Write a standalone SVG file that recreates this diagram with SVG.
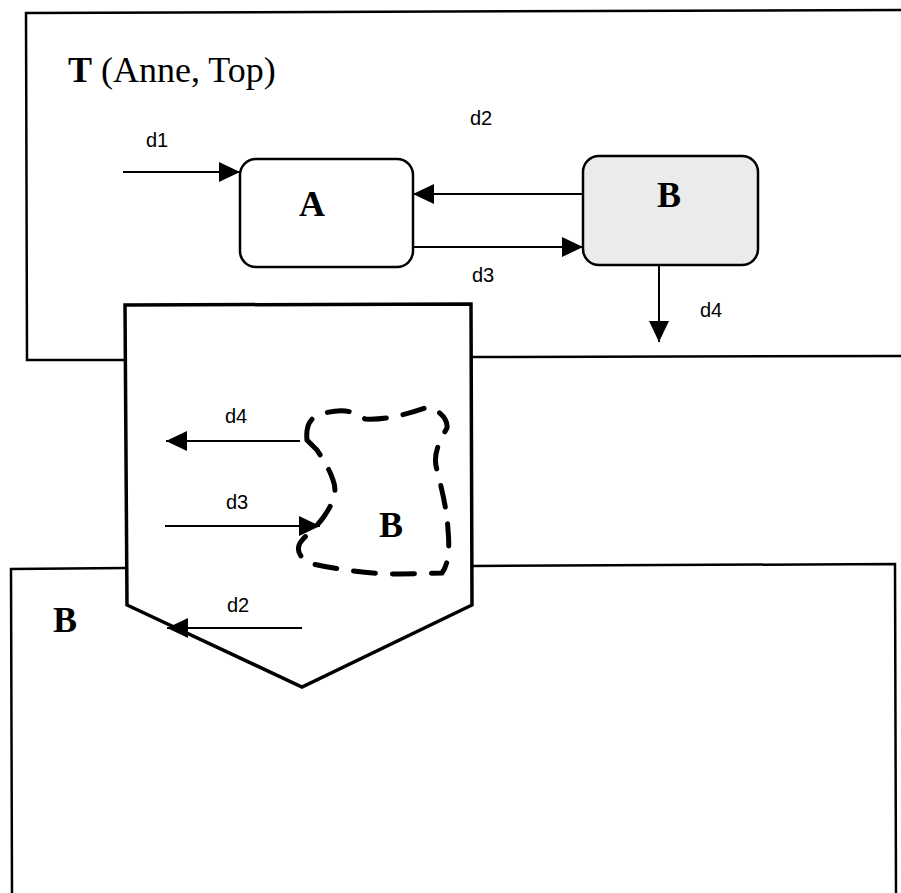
<svg xmlns="http://www.w3.org/2000/svg" width="901" height="893" viewBox="0 0 901 893">
<style>
.frame{fill:none;stroke:#000;stroke-width:2.5}
.box{stroke:#000;stroke-width:2.5}
.conn{fill:none;stroke:#000;stroke-width:2}
.lbl{font-family:"Liberation Sans",Arial,sans-serif;font-size:20px;fill:#000}
.big{font-family:"Liberation Serif","Times New Roman",serif;font-size:36px;font-weight:bold;fill:#000}
</style>
<defs>
<marker id="ah" markerUnits="userSpaceOnUse" markerWidth="22" markerHeight="20" refX="21" refY="10" orient="auto">
<path d="M0,0 L21,10 L0,20 Z" fill="#000"/>
</marker>
</defs>
<rect width="901" height="893" fill="#fff"/>
<g id="T">
<path class="frame" d="M901,10 L26,13 L27,360 L126,360 M471,357 L901,356"/>
<text x="68" y="82" class="big">T<tspan font-weight="normal"> (Anne, Top)</tspan></text>
</g>
<g id="Bframe">
<path class="frame" d="M126,568 L11,569 L12,893 M471,566 L895,564 L896,893"/>
<text x="53" y="632" class="big">B</text>
</g>
<g id="pocket">
<polygon points="125,305 471,304 472,605 302,687 127,605" fill="#fff" stroke="#000" stroke-width="3.5" stroke-linejoin="miter"/>
<path d="M307,440 C305,420 315,415 325,413 C345,408 355,412 365,419 C385,420 405,415 428,407 C440,410 448,420 447,428 C440,440 432,455 437,470 C442,490 447,510 448,530 C450,550 448,565 442,573 L400,574 C370,574 340,570 313,564 C300,560 296,550 300,543 C305,535 315,530 325,515 C335,500 337,490 333,480 C328,465 320,455 317,450 Z" fill="none" stroke="#000" stroke-width="5" stroke-dasharray="22 17" stroke-linecap="round"/>
<text x="379" y="537" class="big" font-size="31">B</text>
</g>
<g id="A">
<rect class="box" x="240" y="159" width="173" height="108" rx="16" fill="#fff"/>
<text x="312" y="216" class="big" text-anchor="middle">A</text>
</g>
<g id="B">
<rect class="box" x="583" y="156" width="175" height="109" rx="16" fill="#ebebeb"/>
<text x="669" y="207" class="big" text-anchor="middle">B</text>
</g>
<g id="connectors">
<line class="conn" x1="123" y1="172" x2="240" y2="172" marker-end="url(#ah)"/>
<line class="conn" x1="583" y1="194" x2="413" y2="194" marker-end="url(#ah)"/>
<line class="conn" x1="413" y1="247" x2="583" y2="247" marker-end="url(#ah)"/>
<line class="conn" x1="659" y1="265" x2="659" y2="342" marker-end="url(#ah)"/>
<line class="conn" x1="300" y1="441" x2="166" y2="441" marker-end="url(#ah)"/>
<line class="conn" x1="165" y1="526" x2="320" y2="526" marker-end="url(#ah)"/>
<line class="conn" x1="302" y1="628" x2="167" y2="628" marker-end="url(#ah)"/>
</g>
<g id="labels">
<text x="146" y="147" class="lbl">d1</text>
<text x="470" y="125" class="lbl">d2</text>
<text x="472" y="282" class="lbl">d3</text>
<text x="700" y="317" class="lbl">d4</text>
<text x="225" y="423" class="lbl">d4</text>
<text x="226" y="509" class="lbl">d3</text>
<text x="227" y="612" class="lbl">d2</text>
</g>
</svg>
